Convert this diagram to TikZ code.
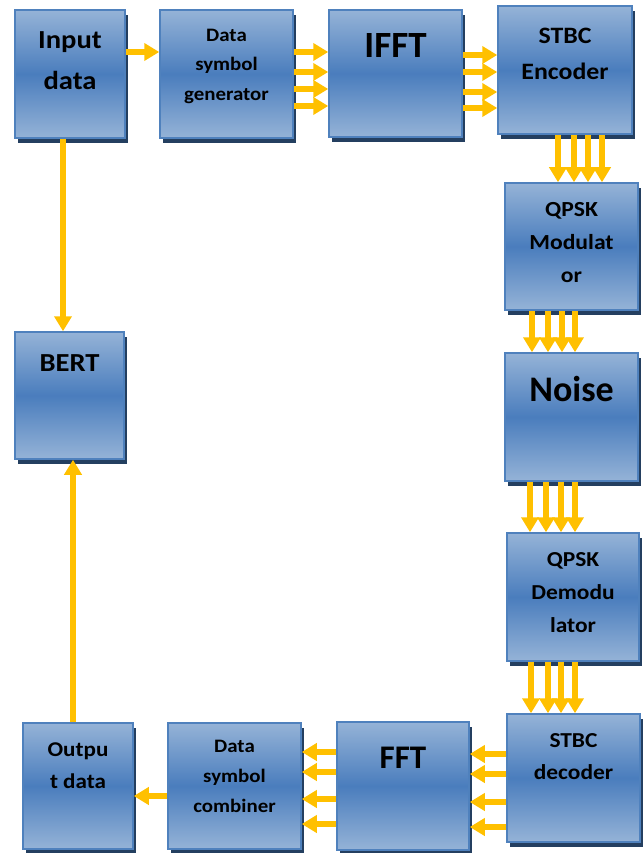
\documentclass[tikz,border=0pt]{standalone}
\usepackage{fontspec}
\setmainfont{Carlito}
\newfontfamily\widefont[FakeStretch=1.1]{Carlito}
\usetikzlibrary{arrows.meta,shadows,calc}
\definecolor{yel}{HTML}{FFC000}
\definecolor{lightb}{HTML}{95B3D7}
\definecolor{midb}{HTML}{4A7DBD}
\definecolor{edgeb}{HTML}{4F81BD}
\definecolor{navy}{HTML}{243F60}
\tikzset{
  blk/.style={draw=edgeb, line width=1.5pt, top color=lightb, bottom color=lightb, middle color=midb,
    drop shadow={shadow xshift=3pt, shadow yshift=-5pt, fill=navy, opacity=1}, inner sep=0pt},
  lbl/.style={anchor=north, align=center, inner sep=0pt, text=black},
  arr/.style={draw=yel, line width=5.5pt, -{Triangle[width=17pt,length=15pt,fill=yel]}},
}
\newcommand{\fs}[2]{\fontsize{#1}{#2}\selectfont\bfseries}
\newcommand{\fw}[2]{\widefont\fontsize{#1}{#2}\selectfont\bfseries}
\begin{document}
\begin{tikzpicture}[x=1pt,y=-1pt]
\useasboundingbox (0,0) rectangle (642,853);
% boxes
\node[blk, minimum width=110pt, minimum height=128pt] (in) at (70,74) {};
\node[blk, minimum width=133pt, minimum height=128pt] (gen) at (226.5,74) {};
\node[blk, minimum width=133pt, minimum height=127pt] (ifft) at (395.5,73.5) {};
\node[blk, minimum width=134pt, minimum height=128pt] (enc) at (565,70) {};
\node[blk, minimum width=133pt, minimum height=127pt] (mod) at (571.5,246.5) {};
\node[blk, minimum width=133pt, minimum height=128pt] (noise) at (571.5,417) {};
\node[blk, minimum width=132pt, minimum height=128pt] (demod) at (573,597) {};
\node[blk, minimum width=133pt, minimum height=128pt] (dec) at (573.5,778) {};
\node[blk, minimum width=132pt, minimum height=128pt] (fft) at (403,786) {};
\node[blk, minimum width=133pt, minimum height=126pt] (comb) at (234.5,786) {};
\node[blk, minimum width=110pt, minimum height=126pt] (out) at (78,786) {};
\node[blk, minimum width=109pt, minimum height=127pt] (bert) at (69.5,395.5) {};
% labels
\node[lbl, font=\fw{26}{41}] (inT) at ([yshift=-21.9pt]in.north) {Input\\data};
\node[lbl, font=\fw{19}{29.5}] (genT) at ([yshift=-19.7pt]gen.north) {Data\\symbol\\generator};
\node[lbl, font=\fs{37}{40}] (ifftT) at ([yshift=-23.6pt]ifft.north) {IFFT};
\node[lbl, font=\fw{23.5}{36}] (encT) at ([yshift=-22.4pt]enc.north) {STBC\\Encoder};
\node[lbl, font=\fw{21.5}{33}] (modT) at ([yshift=-20.4pt]mod.north) {QPSK\\Modulat\\or};
\node[lbl, font=\fs{36}{40}] (noiseT) at ([yshift=-24pt]noise.north) {Noise};
\node[lbl, font=\fw{21.3}{33}] (demodT) at ([yshift=-20.5pt]demod.north) {QPSK\\Demodu\\lator};
\node[lbl, font=\fw{21.3}{32}] (decT) at ([yshift=-20.5pt]dec.north) {STBC\\decoder};
\node[lbl, font=\fs{33}{36}] (fftT) at ([yshift=-26pt]fft.north) {FFT};
\node[lbl, font=\fw{19}{30}] (combT) at ([yshift=-18pt]comb.north) {Data\\symbol\\combiner};
\node[lbl, font=\fw{21}{32}] (outT) at ([yshift=-20.7pt]out.north) {Outpu\\t data};
\node[lbl, font=\fw{26}{30}] (bertT) at ([yshift=-23.6pt]bert.north) {BERT};
% arrows
\draw[arr] ([yshift=22pt]in.east) -- ([yshift=22pt]in.east -| gen.west);
\foreach \d in {22,2,-15,-32}
  \draw[arr] ([yshift=\d pt]gen.east) -- ([yshift=\d pt]gen.east -| ifft.west);
\foreach \d in {18.5,1.5,-18.5,-34.5}
  \draw[arr] ([yshift=\d pt]ifft.east) -- ([yshift=\d pt]ifft.east -| enc.west);
\foreach \d in {-7,9,23,37}
  \draw[arr] ([xshift=\d pt]enc.south) -- ([xshift=\d pt]enc.south |- mod.north);
\foreach \d in {-39.5,-23.5,-9.5,3.5}
  \draw[arr] ([xshift=\d pt]mod.south) -- ([xshift=\d pt]mod.south |- noise.north);
\foreach \d in {-41.5,-25.5,-10.5,3.5}
  \draw[arr] ([xshift=\d pt]noise.south) -- ([xshift=\d pt]noise.south |- demod.north);
\foreach \d in {-42,-25,-12,2}
  \draw[arr] ([xshift=\d pt]demod.south) -- ([xshift=\d pt]demod.south |- dec.north);
\foreach \d in {24,4,-24,-49}
  \draw[arr] ([yshift=\d pt]dec.west) -- ([yshift=\d pt]dec.west -| fft.east);
\foreach \d in {34,14,-13,-38}
  \draw[arr] ([yshift=\d pt]fft.west) -- ([yshift=\d pt]fft.west -| comb.east);
\draw[arr] ([yshift=-10pt]comb.west) -- ([yshift=-10pt]comb.west -| out.east);
\draw[arr] ([xshift=-5pt]out.north) -- ([xshift=-5pt]out.north |- bert.south);
\draw[arr] ([xshift=-7pt]in.south) -- ([xshift=-7pt]in.south |- bert.north);
\end{tikzpicture}
\end{document}
